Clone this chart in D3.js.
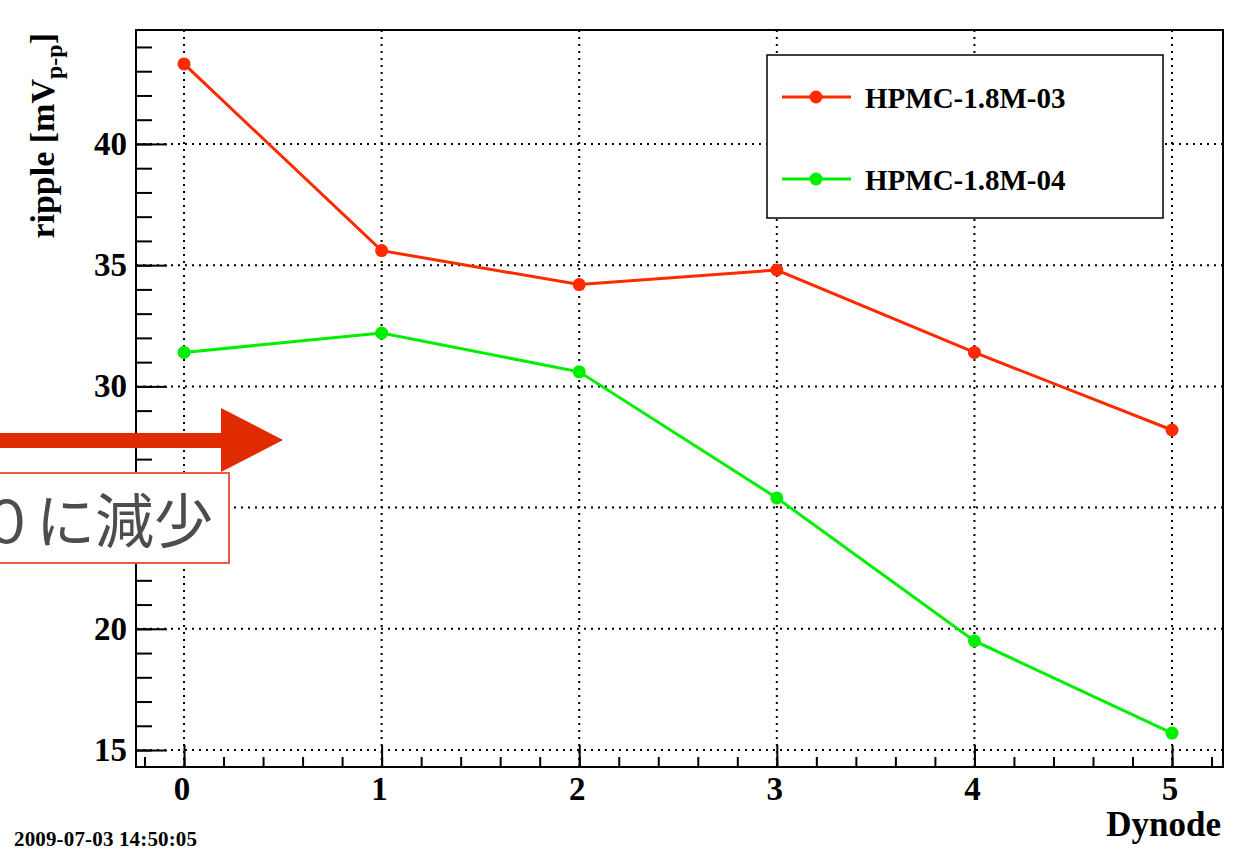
<!DOCTYPE html>
<html>
<head>
<meta charset="utf-8">
<script src="https://cdn.jsdelivr.net/npm/d3@7"></script>
<style>
  body { margin: 0; background: #fff; }
  svg { display: block; }
</style>
</head>
<body>
<svg width="1244" height="850"></svg>
<script>
const dynodes = [0, 1, 2, 3, 4, 5];
const ripple03 = [43.3, 35.6, 34.2, 34.8, 31.4, 28.2];
const ripple04 = [31.4, 32.2, 30.6, 25.4, 19.5, 15.7];
const seriesNames = ["HPMC-1.8M-03", "HPMC-1.8M-04"];
const seriesColors = ["#ff2a00", "#00ee00"];
const yTicks = [15, 20, 25, 30, 35, 40];
const xTicks = [0, 1, 2, 3, 4, 5];

const svg = d3.select("svg");
const serif = "'Liberation Serif', 'Times New Roman', serif";

let padL = 136, padR = 1223, padT = 30, padB = 767;

let x = d3.scaleLinear().domain([-0.243, 5.258]).range([padL, padR]);
let y = d3.scaleLinear().domain([14.3, 44.7]).range([padB, padT]);

// grid
let grid = svg.append("g")
  .attr("stroke", "#000")
  .attr("stroke-width", 2)
  .attr("stroke-dasharray", "2,5");

grid.selectAll("line.gx")
  .data(xTicks)
  .enter()
  .append("line")
  .attr("class", "gx")
  .attr("x1", d => x(d)).attr("x2", d => x(d))
  .attr("y1", padT).attr("y2", padB);

grid.selectAll("line.gy")
  .data(yTicks)
  .enter()
  .append("line")
  .attr("class", "gy")
  .attr("y1", d => y(d)).attr("y2", d => y(d))
  .attr("x1", padL).attr("x2", padR);

// axes (ROOT style: ticks inside)
let yAxis = svg.append("g")
  .attr("transform", "translate(" + padL + ",0)")
  .call(d3.axisRight(y).tickValues(yTicks).tickSize(31).tickFormat(""));
let yMinor = svg.append("g")
  .attr("transform", "translate(" + padL + ",0)")
  .call(d3.axisRight(y).tickValues(d3.range(15, 45)).tickSize(16).tickFormat(""));
let xAxis = svg.append("g")
  .attr("transform", "translate(0," + padB + ")")
  .call(d3.axisTop(x).tickValues(xTicks).tickSize(22).tickFormat(""));
let xMinor = svg.append("g")
  .attr("transform", "translate(0," + padB + ")")
  .call(d3.axisTop(x).tickValues(d3.range(-0.2, 5.21, 0.2)).tickSize(10).tickFormat(""));

[yAxis, yMinor, xAxis, xMinor].forEach(a => {
  a.select(".domain").remove();
  a.selectAll("line").attr("stroke", "#000").attr("stroke-width", 2);
});

// frame
svg.append("rect")
  .attr("x", padL).attr("y", padT)
  .attr("width", padR - padL).attr("height", padB - padT)
  .attr("fill", "none")
  .attr("stroke", "#000")
  .attr("stroke-width", 2);

// tick labels (25 sits under the pasted note box, so it is not shown)
svg.selectAll("text.ylab")
  .data(yTicks.filter(d => d != 25))
  .enter()
  .append("text")
  .attr("class", "ylab")
  .attr("x", 127)
  .attr("y", d => y(d) + 11)
  .attr("text-anchor", "end")
  .attr("font-family", serif)
  .attr("font-weight", "bold")
  .attr("font-size", "33px")
  .text(d => d);

svg.selectAll("text.xlab")
  .data(xTicks)
  .enter()
  .append("text")
  .attr("class", "xlab")
  .attr("x", d => x(d) - 2)
  .attr("y", 800)
  .attr("text-anchor", "middle")
  .attr("font-family", serif)
  .attr("font-weight", "bold")
  .attr("font-size", "33px")
  .text(d => d);

// axis titles
svg.append("text")
  .attr("x", 1221).attr("y", 836)
  .attr("text-anchor", "end")
  .attr("font-family", serif)
  .attr("font-weight", "bold")
  .attr("font-size", "35px")
  .text("Dynode");

let yt = svg.append("text")
  .attr("transform", "translate(54,33) rotate(-90)")
  .attr("text-anchor", "end")
  .attr("font-family", serif)
  .attr("font-weight", "bold")
  .attr("font-size", "34px");
yt.append("tspan").text("ripple [mV");
yt.append("tspan").attr("dy", 8).attr("font-size", "24px").text("p-p");
yt.append("tspan").attr("dy", -8).text("]");

svg.append("text")
  .attr("x", 14).attr("y", 846)
  .attr("font-family", serif)
  .attr("font-weight", "bold")
  .attr("font-size", "21px")
  .attr("textLength", 183)
  .text("2009-07-03 14:50:05");

// series
let line = d3.line().x((d, i) => x(dynodes[i])).y(d => y(d));
[ripple03, ripple04].forEach((vals, k) => {
  svg.append("path")
    .datum(vals)
    .attr("d", line)
    .attr("fill", "none")
    .attr("stroke", seriesColors[k])
    .attr("stroke-width", 3);
  svg.selectAll("circle.s" + k)
    .data(vals)
    .enter()
    .append("circle")
    .attr("class", "s" + k)
    .attr("cx", (d, i) => x(dynodes[i]))
    .attr("cy", d => y(d))
    .attr("r", 6.5)
    .attr("fill", seriesColors[k]);
});

// legend
let lg = svg.append("g");
lg.append("rect")
  .attr("x", 767).attr("y", 55)
  .attr("width", 396).attr("height", 163)
  .attr("fill", "#fff")
  .attr("stroke", "#000")
  .attr("stroke-width", 1.5);
seriesNames.forEach((name, k) => {
  let ly = 97 + k * 82;
  lg.append("line")
    .attr("x1", 782).attr("x2", 851)
    .attr("y1", ly).attr("y2", ly)
    .attr("stroke", seriesColors[k])
    .attr("stroke-width", 3);
  lg.append("circle")
    .attr("cx", 816).attr("cy", ly).attr("r", 6.5)
    .attr("fill", seriesColors[k]);
  lg.append("text")
    .attr("x", 865).attr("y", ly + 11)
    .attr("font-family", serif)
    .attr("font-weight", "bold")
    .attr("font-size", "29px")
    .text(name);
});

// overlaid annotation
svg.append("path")
  .attr("d", "M-5,433 L221,433 L221,408 L283,440 L221,472 L221,448 L-5,448 Z")
  .attr("fill", "#e02a00");

svg.append("rect")
  .attr("x", -5).attr("y", 473)
  .attr("width", 234).attr("height", 90)
  .attr("fill", "#fff")
  .attr("stroke", "#f05a3a")
  .attr("stroke-width", 2);

svg.append("text")
  .attr("x", 213).attr("y", 543)
  .attr("text-anchor", "end")
  .attr("font-family", "'Noto Sans CJK JP', sans-serif")
  .attr("font-weight", 400)
  .attr("font-size", "59px")
  .attr("fill", "#4d4d4d")
  .text("０に減少");
</script>
</body>
</html>
